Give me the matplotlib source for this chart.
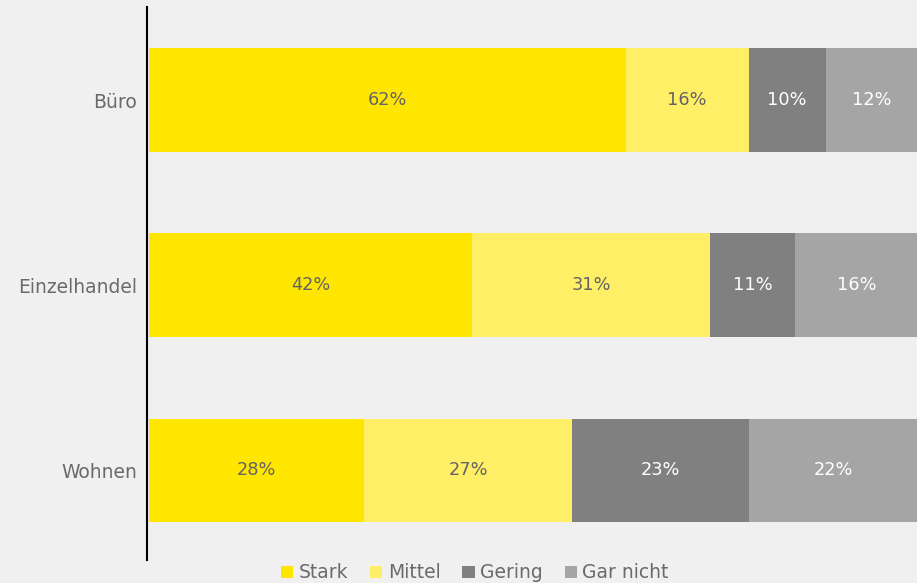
import matplotlib.pyplot as plt
import numpy as np

categories = ["Büro", "Einzelhandel", "Wohnen"]
series_names = ["Stark", "Mittel", "Gering", "Gar nicht"]
stark = [62, 42, 28]
mittel = [16, 31, 27]
gering = [10, 11, 23]
gar_nicht = [12, 16, 22]

colors = ["#FFE600", "#FFEF66", "#808080", "#A5A5A5"]
text_colors = ["#646464", "#646464", "#FFFFFF", "#FFFFFF"]
BG = "#F0F0F0"
GRAY = "#6A6A6A"

plt.rcParams["font.family"] = ["DejaVu Sans"]

fig = plt.figure(figsize=(9.17, 5.83), dpi=100, facecolor=BG)
ax = fig.add_axes([146.5 / 917, 1 - 560 / 583, (917 - 146.5) / 917, (560 - 7) / 583])
ax.set_facecolor(BG)

y = np.arange(len(categories))
left = np.zeros(len(categories))
for name, vals, c, tc in zip(series_names, [stark, mittel, gering, gar_nicht], colors, text_colors):
    vals = np.array(vals, dtype=float)
    bars = ax.barh(y, vals, left=left, height=0.56, color=c, label=name, linewidth=0)
    for b, v in zip(bars, vals):
        ax.text(b.get_x() + b.get_width() / 2, b.get_y() + b.get_height() / 2,
                f"{int(v)}%", ha="center", va="center", color=tc, fontsize=12.8)
    left += vals

ax.set_xlim(-0.33, 99.9)
ax.set_ylim(2.484, -0.503)
ax.set_yticks(y)
ax.set_yticklabels(categories, fontsize=13.5, color=GRAY)
ax.tick_params(axis="y", length=0, pad=7)
ax.set_xticks([])
for s in ["top", "right", "bottom"]:
    ax.spines[s].set_visible(False)
ax.spines["left"].set_color("black")
ax.spines["left"].set_linewidth(1.5)

leg = fig.legend(loc="center", bbox_to_anchor=(475 / 917, 1 - 573 / 583), ncol=4,
                 frameon=False, handlelength=0.65, handleheight=0.65, handletextpad=0.3,
                 columnspacing=1.15, fontsize=13.5, labelcolor=GRAY, borderpad=0)

fig.savefig("out.png", dpi=100, facecolor=BG)
